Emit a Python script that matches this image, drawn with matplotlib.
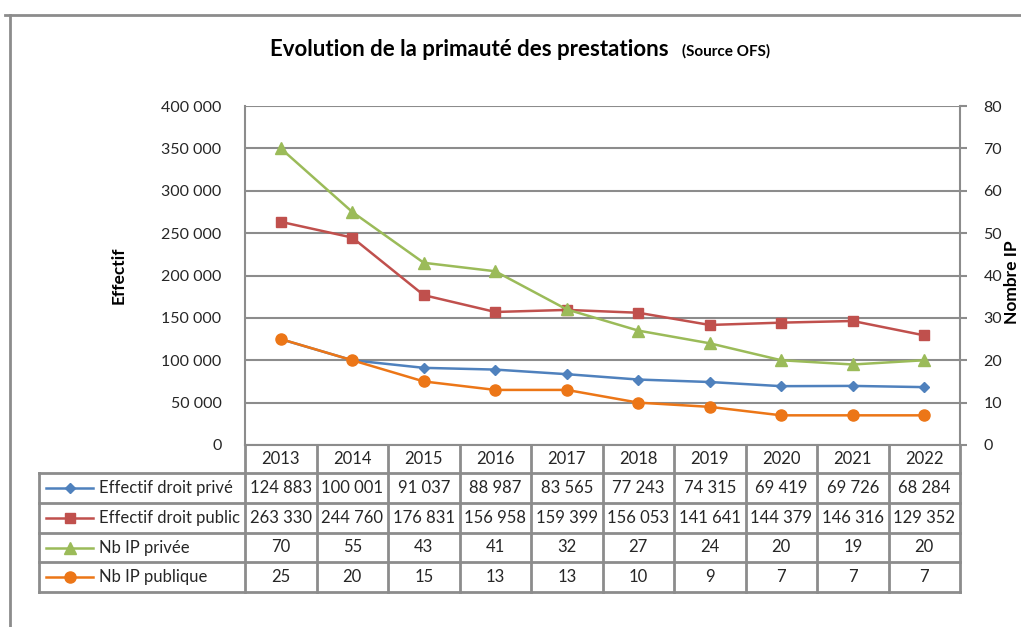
import matplotlib
matplotlib.use("Agg")
import matplotlib.pyplot as plt
from matplotlib.transforms import Affine2D, blended_transform_factory
from matplotlib.lines import Line2D

years = ["2013", "2014", "2015", "2016", "2017", "2018", "2019", "2020", "2021", "2022"]
effectif_prive = [124883, 100001, 91037, 88987, 83565, 77243, 74315, 69419, 69726, 68284]
effectif_public = [263330, 244760, 176831, 156958, 159399, 156053, 141641, 144379, 146316, 129352]
nb_ip_privee = [70, 55, 43, 41, 32, 27, 24, 20, 19, 20]
nb_ip_publique = [25, 20, 15, 13, 13, 10, 9, 7, 7, 7]

series_names = ["Effectif droit privé", "Effectif droit public", "Nb IP privée", "Nb IP publique"]
colors = ["#4F81BD", "#C0504D", "#9BBB59", "#EC7617"]
markers = ["D", "s", "^", "o"]
msizes = [5.5, 6.5, 8, 8]

plt.rcParams['font.family'] = ['Lato', 'DejaVu Sans']

W, H = 1021, 627
fig = plt.figure(figsize=(W / 100, H / 100), dpi=100)
pxT = Affine2D().scale(1 / W, -1 / H).translate(0, 1) + fig.transFigure

GRAY = "#8C8C8C"
TXT = "#262626"

ax_l, ax_r, ax_t, ax_b = 245, 960, 106, 445
ax = fig.add_axes([ax_l / W, 1 - ax_b / H, (ax_r - ax_l) / W, (ax_b - ax_t) / H])
ax2 = ax.twinx()

x = list(range(len(years)))
fmt = lambda v: f"{v:,.0f}".replace(",", " ")

ax.set_xlim(-0.5, len(years) - 0.5)
ax.set_ylim(0, 400000)
ax.set_yticks(range(0, 400001, 50000))
ax.set_yticklabels([fmt(v) for v in range(0, 400001, 50000)])
ax2.set_ylim(0, 80)
ax2.set_yticks(range(0, 81, 10))
ax.set_xticks([])

ax.yaxis.grid(True, color=GRAY, lw=1.5)
ax.set_axisbelow(True)
for a in (ax, ax2):
    for s in a.spines.values():
        s.set_visible(False)
ax.spines['left'].set_visible(True)
ax.spines['left'].set_color(GRAY)
ax.spines['left'].set_linewidth(1.5)
ax.spines['bottom'].set_visible(True)
ax.spines['bottom'].set_color(GRAY)
ax.spines['bottom'].set_linewidth(1.5)
ax2.spines['right'].set_visible(True)
ax2.spines['right'].set_color(GRAY)
ax2.spines['right'].set_linewidth(1.5)
ax.tick_params(axis='y', length=0, pad=17, labelsize=11.5, labelcolor=TXT)
ax2.tick_params(axis='y', length=5, width=1.5, color=GRAY, pad=12, labelsize=11.5, labelcolor=TXT)

data = [effectif_prive, effectif_public, nb_ip_privee, nb_ip_publique]
for i, (vals, c, m, ms) in enumerate(zip(data, colors, markers, msizes)):
    target = ax if i < 2 else ax2
    target.plot(x, vals, color=c, lw=1.8, marker=m, markersize=ms, markeredgecolor=c,
                markerfacecolor=c, clip_on=False, zorder=3)

# titles
fig.text(270, 56, "Evolution de la primauté des prestations", transform=pxT,
         fontsize=16, fontweight='bold', color="black", ha='left', va='baseline')
fig.text(682, 56, "(Source OFS)", transform=pxT, fontsize=11, fontweight='bold',
         color="black", ha='left', va='baseline')
fig.text(119, 275, "Effectif", transform=pxT, fontsize=12.5, fontweight='bold',
         rotation=90, ha='center', va='center')
fig.text(1012, 282, "Nombre IP", transform=pxT, fontsize=12.5, fontweight='bold',
         rotation=90, ha='center', va='center')

# outer frame
fig.add_artist(Line2D([5, W + 5], [15, 15], transform=pxT, color=GRAY, lw=2))
fig.add_artist(Line2D([10, 10], [15, H + 5], transform=pxT, color=GRAY, lw=2))

# data table
bt = blended_transform_factory(ax.transData, pxT)
row_edges = [445, 473, 503, 533, 562, 592]
tbl_left = 39
for k in range(len(years) + 1):
    fig.add_artist(Line2D([k - 0.5, k - 0.5], [445, 592], transform=bt, color=GRAY, lw=2))
for y in row_edges[1:]:
    fig.add_artist(Line2D([tbl_left, ax_r], [y, y], transform=pxT, color=GRAY, lw=2))
fig.add_artist(Line2D([tbl_left, tbl_left], [473, 592], transform=pxT, color=GRAY, lw=2))

ycen = [(row_edges[i] + row_edges[i + 1]) / 2 for i in range(5)]
for j, yr in enumerate(years):
    fig.text(j, ycen[0], yr, transform=bt, ha='center', va='center', fontsize=12, color=TXT)
for i, vals in enumerate(data):
    yc = ycen[i + 1]
    for j, v in enumerate(vals):
        fig.text(j, yc, fmt(v), transform=bt, ha='center', va='center', fontsize=12, color=TXT)
    fig.add_artist(Line2D([46, 93], [yc, yc], transform=pxT, color=colors[i], lw=1.8))
    fig.add_artist(Line2D([69.5], [yc], transform=pxT, color=colors[i], marker=markers[i],
                          markersize=msizes[i], markeredgecolor=colors[i], markerfacecolor=colors[i]))
    fig.text(99, yc, series_names[i], transform=pxT, ha='left', va='center', fontsize=12, color=TXT)

fig.savefig("out.png", dpi=100)
